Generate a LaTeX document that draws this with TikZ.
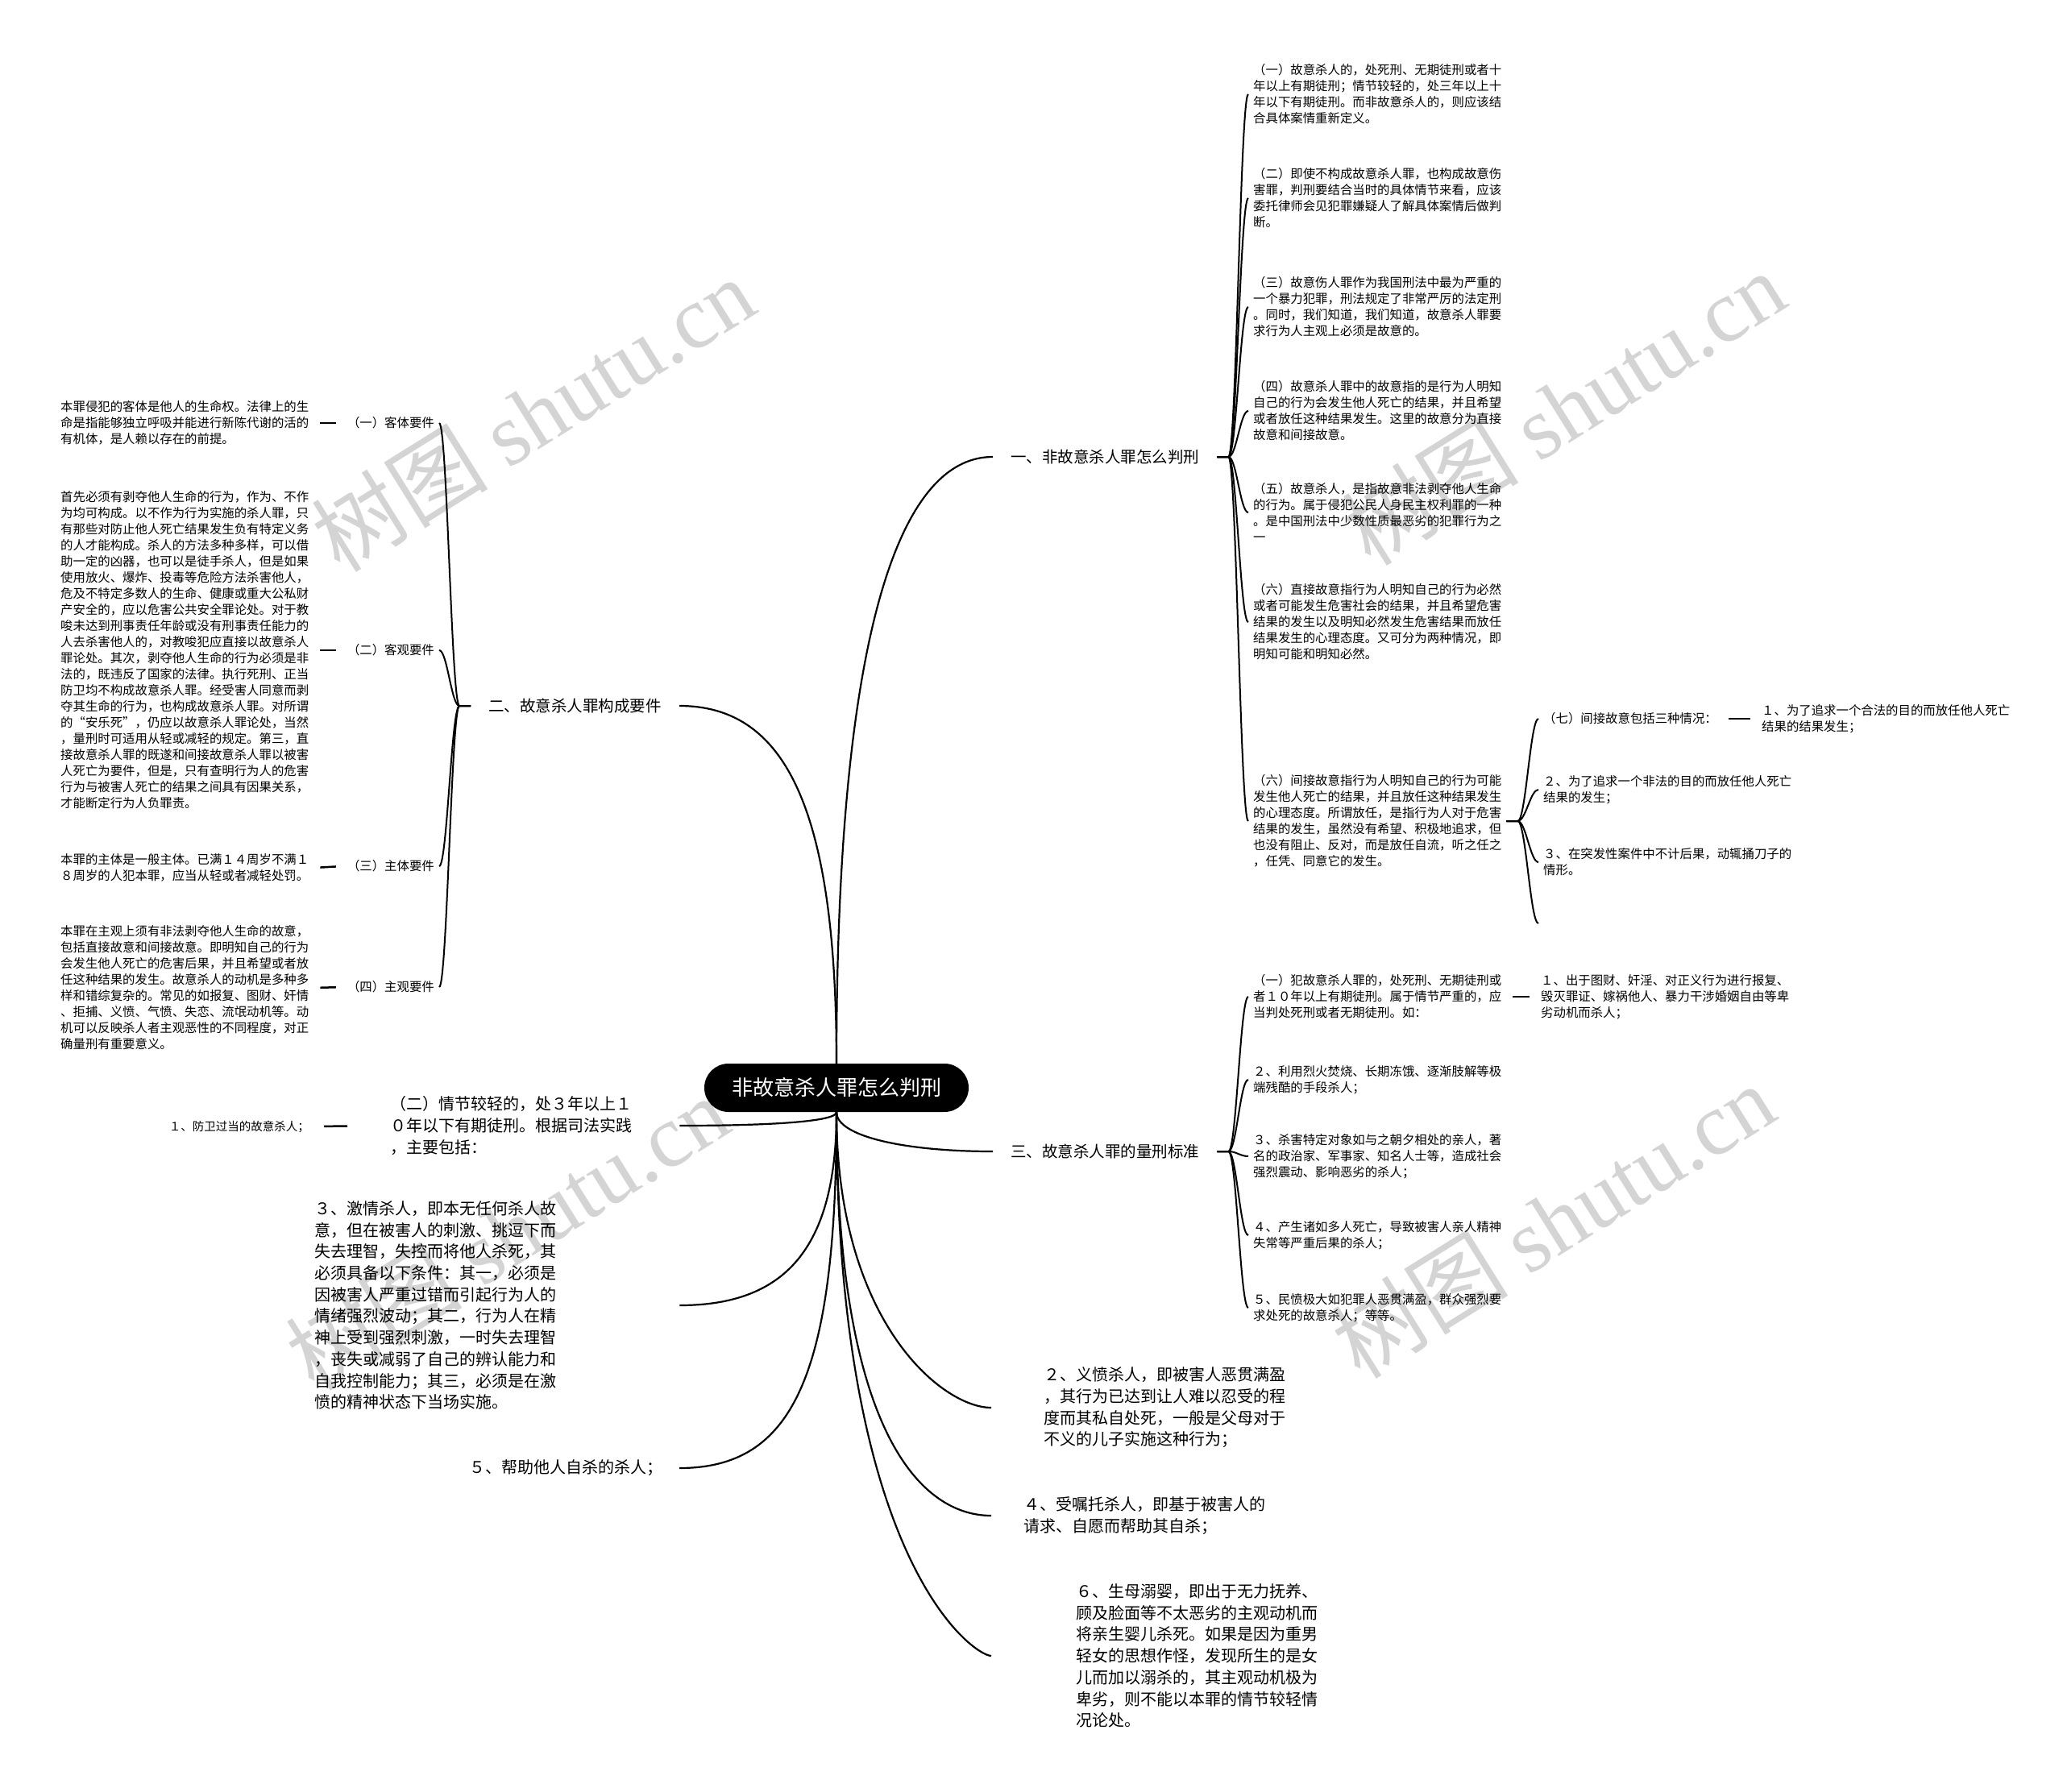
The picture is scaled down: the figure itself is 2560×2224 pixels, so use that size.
\documentclass[tikz,border=0pt]{standalone}
\usepackage{fontspec}
\setmainfont{Noto Sans CJK SC}
\newfontfamily\wmfont{Liberation Serif}
\definecolor{wmgray}{HTML}{D4D4D4}

\begin{document}
\begin{tikzpicture}[x=1pt,y=-1pt,
  root/.style={fill=black,text=white,rounded corners=30,minimum width=328,minimum height=60,inner sep=0,font=\fontsize{26}{30}\selectfont},
  branch/.style={inner xsep=22,inner ysep=4,font=\fontsize{19.5}{24}\selectfont},
  note/.style={inner sep=6,align=left,font=\fontsize{15.4}{20}\selectfont},
  big/.style={inner sep=6,align=left,font=\fontsize{20}{26.7}\selectfont},
  link/.style={line width=2.2},
  brace/.style={line width=2,to path={-- ++(14,0) .. controls +(10,0) and +(-10,0) .. (\tikztotarget)}},
  lbrace/.style={line width=2,to path={-- ++(-14,0) .. controls +(-10,0) and +(10,0) .. (\tikztotarget)}},
  joinline/.style={line width=2.5,shorten <=8,shorten >=8},
  wmark/.style={text=wmgray,rotate=32,font=\fontsize{110}{110}\selectfont}]
  \useasboundingbox (0,0) rectangle (2560,2224);
  \fill[white] (0,0) rectangle (2560,2224);
  % watermarks
  \node[wmark] (wm1) at (661,514) {树图 {\wmfont shutu.cn}};
  \node[wmark] (wm2) at (1940,506) {树图 {\wmfont shutu.cn}};
  \node[wmark] (wm3) at (629,1530) {树图 {\wmfont shutu.cn}};
  \node[wmark] (wm4) at (1927,1515) {树图 {\wmfont shutu.cn}};

  \node[root] (root) at (1038,1350) {非故意杀人罪怎么判刑};
  \node[branch,anchor=west] (b1) at (1232,567) {一、非故意杀人罪怎么判刑};
  \node[branch,anchor=east] (b2) at (843,876) {二、故意杀人罪构成要件};
  \node[branch,anchor=west] (b3) at (1232,1429) {三、故意杀人罪的量刑标准};

  % branch one
  \node[note,anchor=west] (r1) at (1549,117) {（一）故意杀人的，处死刑、无期徒刑或者十\\年以上有期徒刑；情节较轻的，处三年以上十\\年以下有期徒刑。而非故意杀人的，则应该结\\合具体案情重新定义。};
  \node[note,anchor=west] (r2) at (1549,246) {（二）即使不构成故意杀人罪，也构成故意伤\\害罪，判刑要结合当时的具体情节来看，应该\\委托律师会见犯罪嫌疑人了解具体案情后做判\\断。};
  \node[note,anchor=west] (r3) at (1549,381) {（三）故意伤人罪作为我国刑法中最为严重的\\一个暴力犯罪，刑法规定了非常严厉的法定刑\\。同时，我们知道，我们知道，故意杀人罪要\\求行为人主观上必须是故意的。};
  \node[note,anchor=west] (r4) at (1549,510) {（四）故意杀人罪中的故意指的是行为人明知\\自己的行为会发生他人死亡的结果，并且希望\\或者放任这种结果发生。这里的故意分为直接\\故意和间接故意。};
  \node[note,anchor=west] (r5) at (1549,636) {（五）故意杀人，是指故意非法剥夺他人生命\\的行为。属于侵犯公民人身民主权利罪的一种\\。是中国刑法中少数性质最恶劣的犯罪行为之\\一};
  \node[note,anchor=west] (r6) at (1549,772) {（六）直接故意指行为人明知自己的行为必然\\或者可能发生危害社会的结果，并且希望危害\\结果的发生以及明知必然发生危害结果而放任\\结果发生的心理态度。又可分为两种情况，即\\明知可能和明知必然。};
  \node[note,anchor=west] (r7) at (1549,1019) {（六）间接故意指行为人明知自己的行为可能\\发生他人死亡的结果，并且放任这种结果发生\\的心理态度。所谓放任，是指行为人对于危害\\结果的发生，虽然没有希望、积极地追求，但\\也没有阻止、反对，而是放任自流，听之任之\\，任凭、同意它的发生。};
  \node[note,anchor=west] (q1) at (1909,892) {（七）间接故意包括三种情况：};
  \node[note,anchor=west] (q1a) at (2180,892) {１、为了追求一个合法的目的而放任他人死亡\\结果的结果发生；};
  \node[note,anchor=west] (q2) at (1909,980) {２、为了追求一个非法的目的而放任他人死亡\\结果的发生；};
  \node[note,anchor=west] (q3) at (1909,1070) {３、在突发性案件中不计后果，动辄捅刀子的\\情形。};
  \coordinate (q4) at (1909,1146);

  % branch three
  \node[note,anchor=west] (s1) at (1549,1237) {（一）犯故意杀人罪的，处死刑、无期徒刑或\\者１０年以上有期徒刑。属于情节严重的，应\\当判处死刑或者无期徒刑。如：};
  \node[note,anchor=west] (s1a) at (1906,1237) {１、出于图财、奸淫、对正义行为进行报复、\\毁灭罪证、嫁祸他人、暴力干涉婚姻自由等卑\\劣动机而杀人；};
  \node[note,anchor=west] (s2) at (1549,1340) {２、利用烈火焚烧、长期冻饿、逐渐肢解等极\\端残酷的手段杀人；};
  \node[note,anchor=west] (s3) at (1549,1435) {３、杀害特定对象如与之朝夕相处的亲人，著\\名的政治家、军事家、知名人士等，造成社会\\强烈震动、影响恶劣的杀人；};
  \node[note,anchor=west] (s4) at (1549,1533) {４、产生诸如多人死亡，导致被害人亲人精神\\失常等严重后果的杀人；};
  \node[note,anchor=west] (s5) at (1549,1623) {５、民愤极大如犯罪人恶贯满盈，群众强烈要\\求处死的故意杀人；等等。};

  % branch two
  \node[note,anchor=east] (l1) at (545,525) {（一）客体要件};
  \node[note,anchor=east] (l2) at (545,807) {（二）客观要件};
  \node[note,anchor=east] (l3) at (545,1075) {（三）主体要件};
  \node[note,anchor=east] (l4) at (545,1225) {（四）主观要件};
  \node[note,anchor=west] (t1) at (69,525) {本罪侵犯的客体是他人的生命权。法律上的生\\命是指能够独立呼吸并能进行新陈代谢的活的\\有机体，是人赖以存在的前提。};
  \node[note,anchor=west] (t2) at (69,807) {首先必须有剥夺他人生命的行为，作为、不作\\为均可构成。以不作为行为实施的杀人罪，只\\有那些对防止他人死亡结果发生负有特定义务\\的人才能构成。杀人的方法多种多样，可以借\\助一定的凶器，也可以是徒手杀人，但是如果\\使用放火、爆炸、投毒等危险方法杀害他人，\\危及不特定多数人的生命、健康或重大公私财\\产安全的，应以危害公共安全罪论处。对于教\\唆未达到刑事责任年龄或没有刑事责任能力的\\人去杀害他人的，对教唆犯应直接以故意杀人\\罪论处。其次，剥夺他人生命的行为必须是非\\法的，既违反了国家的法律。执行死刑、正当\\防卫均不构成故意杀人罪。经受害人同意而剥\\夺其生命的行为，也构成故意杀人罪。对所谓\\的“安乐死”，仍应以故意杀人罪论处，当然\\，量刑时可适用从轻或减轻的规定。第三，直\\接故意杀人罪的既遂和间接故意杀人罪以被害\\人死亡为要件，但是，只有查明行为人的危害\\行为与被害人死亡的结果之间具有因果关系，\\才能断定行为人负罪责。};
  \node[note,anchor=west] (t3) at (69,1077) {本罪的主体是一般主体。已满１４周岁不满１\\８周岁的人犯本罪，应当从轻或者减轻处罚。};
  \node[note,anchor=west] (t4) at (69,1226) {本罪在主观上须有非法剥夺他人生命的故意，\\包括直接故意和间接故意。即明知自己的行为\\会发生他人死亡的危害后果，并且希望或者放\\任这种结果的发生。故意杀人的动机是多种多\\样和错综复杂的。常见的如报复、图财、奸情\\、拒捕、义愤、气愤、失恋、流氓动机等。动\\机可以反映杀人者主观恶性的不同程度，对正\\确量刑有重要意义。};

  % loose items
  \node[big,anchor=west,text width=353] (qj) at (478,1397) {（二）情节较轻的，处３年以上１\\０年以下有期徒刑。根据司法实践\\，主要包括：};
  \node[note,anchor=east,font=\fontsize{14.5}{18}\selectfont] (fw) at (390,1398) {１、防卫过当的故意杀人；};
  \node[big,anchor=west,text width=447] (jq) at (384,1620) {３、激情杀人，即本无任何杀人故\\意，但在被害人的刺激、挑逗下而\\失去理智，失控而将他人杀死，其\\必须具备以下条件：其一，必须是\\因被害人严重过错而引起行为人的\\情绪强烈波动；其二，行为人在精\\神上受到强烈刺激，一时失去理智\\，丧失或减弱了自己的辨认能力和\\自我控制能力；其三，必须是在激\\愤的精神状态下当场实施。};
  \node[big,anchor=east,inner xsep=20] (bz) at (843,1822) {５、帮助他人自杀的杀人；};
  \node[big,anchor=west] (yf) at (1289,1747) {２、义愤杀人，即被害人恶贯满盈\\，其行为已达到让人难以忍受的程\\度而其私自处死，一般是父母对于\\不义的儿子实施这种行为；};
  \node[big,anchor=west] (sz) at (1264,1881) {４、受嘱托杀人，即基于被害人的\\请求、自愿而帮助其自杀；};
  \node[big,anchor=west] (sm) at (1329,2055) {６、生母溺婴，即出于无力抚养、\\顾及脸面等不太恶劣的主观动机而\\将亲生婴儿杀死。如果是因为重男\\轻女的思想作怪，发现所生的是女\\儿而加以溺杀的，其主观动机极为\\卑劣，则不能以本罪的情节较轻情\\况论处。};

  % links from the root
  \draw[link] (root.north) .. controls +(0,-520) and +(-120,0) .. (b1.west);
  \draw[link] (root.north) .. controls +(0,-320) and +(130,0) .. (b2.east);
  \draw[link] (root.south) .. controls +(0,30) and +(-110,0) .. (b3.west);
  \draw[link] (root.south) .. controls +(0,12) and +(110,0) .. (qj.east);
  \draw[link] (root.south) .. controls +(0,170) and +(130,0) .. (jq.east);
  \draw[link] (root.south) .. controls +(0,330) and +(140,0) .. (bz.east);
  \draw[link,shorten >=59] (root.south) .. controls +(0,260) and +(-120,0) .. (yf.west);
  \draw[link,shorten >=34] (root.south) .. controls +(0,400) and +(-120,0) .. (sz.west);
  \draw[link,shorten >=99] (root.south) .. controls +(0,560) and +(-120,0) .. (sm.west);

  % brackets
  \foreach \c in {r1,r2,r3,r4,r5,r6,r7}
    \draw[brace] (b1.east) to (\c.west);
  \foreach \c in {q1,q2,q3}
    \draw[brace] (r7.east) to (\c.west);
  \draw[brace] (r7.east) to (q4);
  \foreach \c in {s1,s2,s3,s4,s5}
    \draw[brace] (b3.east) to (\c.west);
  \foreach \c in {l1,l2,l3,l4}
    \draw[lbrace] (b2.west) to (\c.east);

  % short joins
  \foreach \a/\b in {t1/l1,t2/l2,t3/l3,t4/l4}
    \draw[joinline] (\a.east) -- (\b.west);
  \draw[joinline] (q1.east) -- (q1a.west);
  \draw[joinline] (s1.east) -- (s1a.west);
  \draw[joinline,shorten <=47,shorten >=12] (qj.west) -- (fw.east);
\end{tikzpicture}
\end{document}
